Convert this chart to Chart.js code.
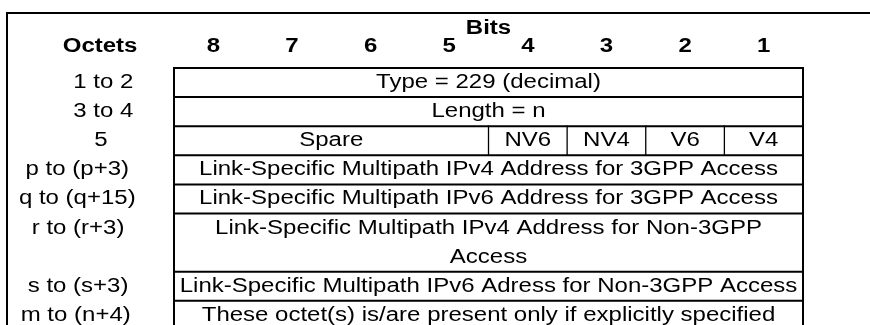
<!DOCTYPE html>
<html>
<head>
<meta charset="utf-8">
<script src="https://cdn.jsdelivr.net/npm/chart.js@4"></script>
<style>
html,body{margin:0;padding:0;background:#fff;}
#wrap{width:870px;height:325px;position:relative;}
</style>
</head>
<body>
<div id="wrap"><canvas id="c"></canvas></div>
<script>
// ---- data ----
const headerTitle = 'Bits';
const octetsTitle = 'Octets';
const bitLabels = ['8','7','6','5','4','3','2','1'];
const octetLabels = ['1 to 2','3 to 4','5','p to (p+3)','q to (q+15)','r to (r+3)','s to (s+3)','m to (n+4)'];
const rowLines = [1,1,1,1,1,2,1,1];
const fieldTexts = [
  ['Type = 229 (decimal)'],
  ['Length = n'],
  ['Spare','NV6','NV4','V6','V4'],
  ['Link-Specific Multipath IPv4 Address for 3GPP Access'],
  ['Link-Specific Multipath IPv6 Address for 3GPP Access'],
  ['Link-Specific Multipath IPv4 Address for Non-3GPP\nAccess'],
  ['Link-Specific Multipath IPv6 Adress for Non-3GPP Access'],
  ['These octet(s) is/are present only if explicitly specified']
];
const fieldBits = [ [8],[8],[4,1,1,1,1],[8],[8],[8],[8],[8] ];

// ---- layout / style ----
const X_MIN = -2.213, X_MAX = 8.852;
const Y_MIN = -2.337, Y_MAX = 8.832;
const FRAME_X = -2.124, FRAME_Y = -1.89;
const BITS_Y = -1.37, NUM_Y = -0.75;
const OCT_HEAD_X = -0.94;
const octetX = [-0.90,-0.90,-0.93,-1.23,-1.23,-1.22,-1.22,-1.25];
const FONT = '"Liberation Sans", Arial, sans-serif';
const FS = 20, SX = 1.2;

// build segments
const segs = [];
function seg(x1,y1,x2,y2,w){segs.push({x1,y1,x2,y2,w});}
seg(FRAME_X,FRAME_Y,X_MAX+1,FRAME_Y,2);
seg(FRAME_X,FRAME_Y,FRAME_X,Y_MAX+1,2);
let tops=[]; let t=0;
rowLines.forEach((n,i)=>{tops.push(t); t+=n;});
const bottom = t;
rowLines.forEach((n,i)=>{
  seg(0,tops[i],8,tops[i],2);
  let x=0;
  fieldBits[i].forEach((w,j)=>{ if(j>0) seg(x,tops[i],x,tops[i]+n,1.3); x+=w; });
});
seg(0,bottom,8,bottom,2);
seg(0,0,0,bottom,2);
seg(8,0,8,bottom,2);

const datasets = segs.map(s=>({
  data:[{x:s.x1,y:s.y1},{x:s.x2,y:s.y2}],
  showLine:true, borderColor:'#000', borderWidth:s.w, pointRadius:0,
  borderCapStyle:'square', tension:0, fill:false
}));

function txt(ctx,str,x,y,bold){
  ctx.save();
  ctx.font=(bold?'bold ':'')+FS+'px '+FONT;
  ctx.textAlign='center';ctx.textBaseline='middle';ctx.fillStyle='#000';
  ctx.translate(x,y);ctx.scale(SX,1);ctx.fillText(str,0,0);
  ctx.restore();
}

const textPlugin = {
  id:'tableText',
  afterDatasetsDraw(chart){
    const ctx=chart.ctx, xs=chart.scales.x, ys=chart.scales.y;
    const px=v=>xs.getPixelForValue(v), py=v=>ys.getPixelForValue(v);
    txt(ctx,headerTitle,px(4),py(BITS_Y),true);
    txt(ctx,octetsTitle,px(OCT_HEAD_X),py(NUM_Y),true);
    bitLabels.forEach((b,i)=>txt(ctx,b,px(i+0.5),py(NUM_Y),true));
    rowLines.forEach((n,i)=>{
      txt(ctx,octetLabels[i],px(octetX[i]),py(tops[i]+0.5),false);
      let x=0;
      fieldTexts[i].forEach((s,j)=>{
        const w=fieldBits[i][j];
        const lines=s.split('\n');
        lines.forEach((l,k)=>txt(ctx,l,px(x+w/2),py(tops[i]+0.5+k),false));
        x+=w;
      });
    });
  }
};

new Chart(document.getElementById('c'),{
  type:'scatter',
  data:{datasets},
  options:{
    responsive:true, maintainAspectRatio:false, animation:false,
    devicePixelRatio:1,
    layout:{padding:0},
    plugins:{legend:{display:false},tooltip:{enabled:false}},
    events:[],
    scales:{
      x:{type:'linear',min:X_MIN,max:X_MAX,display:false},
      y:{type:'linear',min:Y_MIN,max:Y_MAX,reverse:true,display:false}
    }
  },
  plugins:[textPlugin]
});
</script>
</body>
</html>
